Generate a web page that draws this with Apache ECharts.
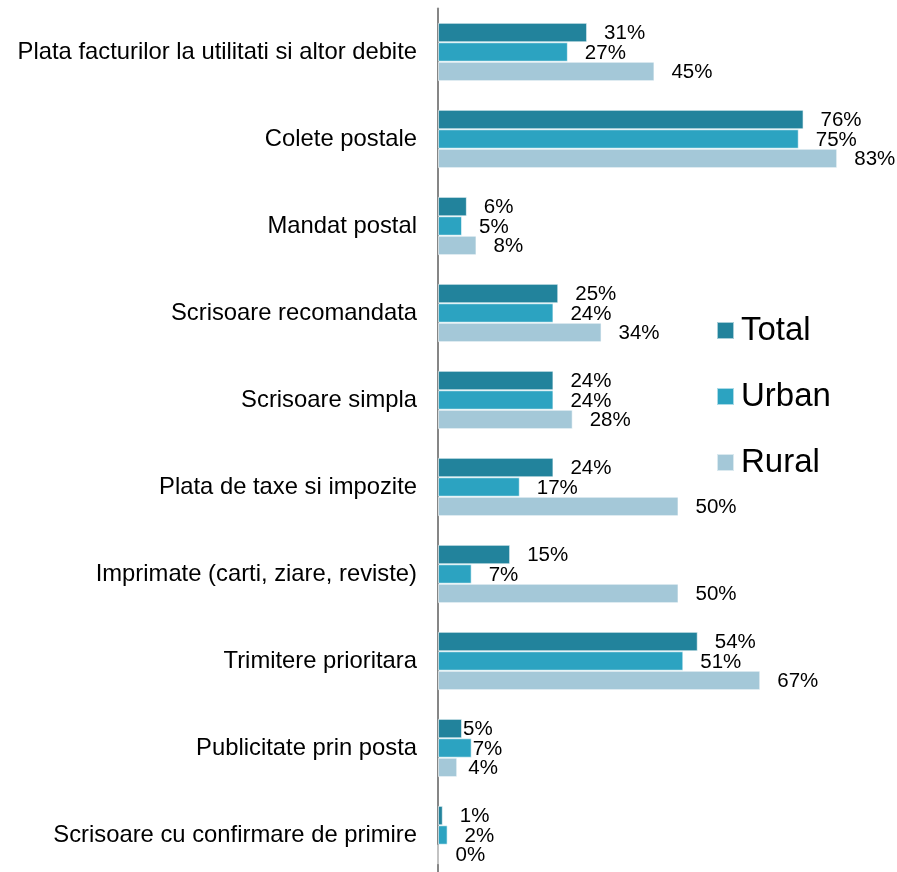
<!DOCTYPE html>
<html>
<head>
<meta charset="utf-8">
<script src="https://cdn.jsdelivr.net/npm/echarts@6/dist/echarts.min.js"></script>
<style>html,body{margin:0;padding:0;background:#fff}#c{width:897px;height:872px}</style>
</head>
<body>
<div id="c"></div>
<script>
const categories = [
  "Plata facturilor la utilitati si altor debite",
  "Colete postale",
  "Mandat postal",
  "Scrisoare recomandata",
  "Scrisoare simpla",
  "Plata de taxe si impozite",
  "Imprimate (carti, ziare, reviste)",
  "Trimitere prioritara",
  "Publicitate prin posta",
  "Scrisoare cu confirmare de primire"
];
const seriesNames = ["Total", "Urban", "Rural"];
const totalValues = [31, 76, 6, 25, 24, 24, 15, 54, 5, 1];
const urbanValues = [27, 75, 5, 24, 24, 17, 7, 51, 7, 2];
const ruralValues = [45, 83, 8, 34, 28, 50, 50, 67, 4, 0];

const FONT = "'Liberation Sans', Arial, sans-serif";
const colors = ["#22839c", "#2ca3c1", "#a4c8d8"];
// label distance overrides (crowded category)
const labelDist = {"Publicitate prin posta": [1, 1, 11]};

function mkSeries(name, vals, idx) {
  return {
    name: name,
    type: "bar",
    data: vals.map((v, i) => {
      const d = labelDist[categories[i]];
      return {
        value: v,
        label: {distance: d ? d[idx] : 17}
      };
    }),
    itemStyle: {color: colors[idx], borderColor: "rgba(255,255,255,0.6)", borderWidth: 1},
    barGap: "0%",
    barCategoryGap: "33%",
    label: {
      show: true,
      position: "right",
      formatter: "{c}%",
      color: "#000",
      fontSize: 20.5,
      fontFamily: FONT,
      offset: [0, 1]
    },
    z: 2
  };
}

const chart = echarts.init(document.getElementById("c"), null, {renderer: "canvas"});
chart.setOption({
  animation: false,
  backgroundColor: "#fff",
  color: colors,
  grid: {left: 438, top: 8.5, width: 481, height: 870, containLabel: false, outerBoundsMode: "none"},
  xAxis: {type: "value", min: 0, max: 100, show: false},
  yAxis: {
    type: "category",
    inverse: true,
    data: categories,
    axisLine: {show: true, lineStyle: {color: "#868686", width: 2}},
    axisTick: {show: false},
    axisLabel: {color: "#000", fontSize: 23.8, fontFamily: FONT, margin: 21}
  },
  legend: {
    orient: "vertical",
    left: 716,
    top: 314,
    padding: 0,
    itemWidth: 17,
    itemHeight: 17,
    itemGap: 33,
    icon: "rect",
    data: seriesNames,
    textStyle: {fontSize: 33, fontFamily: FONT, color: "#000", lineHeight: 30, padding: [0, 0, 0, 2]}
  },
  series: [
    mkSeries(seriesNames[0], totalValues, 0),
    mkSeries(seriesNames[1], urbanValues, 1),
    mkSeries(seriesNames[2], ruralValues, 2)
  ]
});
</script>
</body>
</html>
